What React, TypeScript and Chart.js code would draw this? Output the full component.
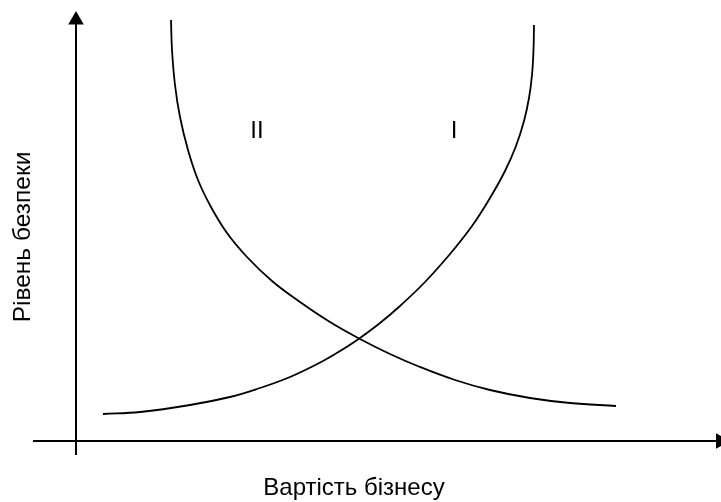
import React, { useEffect, useRef } from "react";
import { Chart, registerables } from "chart.js";

Chart.register(...registerables);

// Curve II (decreasing)
const curveIIX = [1.9, 1.92, 1.98, 2.08, 2.24, 2.44, 2.7, 3.02, 3.42, 3.92, 4.48, 5.08, 5.68, 6.28, 6.88, 7.58, 8.28, 9.08, 9.88, 10.8];
const curveIIY = [10.525, 9.775, 8.9, 8.1, 7.275, 6.525, 5.85, 5.2, 4.6, 4.0, 3.475, 2.975, 2.55, 2.175, 1.85, 1.525, 1.275, 1.075, 0.95, 0.875];
// Curve I (increasing)
const curveIX = [0.54, 1.28, 2.28, 3.08, 3.62, 4.28, 4.94, 5.38, 5.68, 6.08, 6.48, 6.98, 7.48, 7.92, 8.28, 8.58, 8.8, 8.96, 9.06, 9.12, 9.15, 9.16];
const curveIY = [0.675, 0.725, 0.9, 1.1, 1.3, 1.6, 2.0, 2.325, 2.575, 2.95, 3.375, 3.975, 4.675, 5.375, 6.075, 6.75, 7.375, 8.0, 8.575, 9.15, 9.775, 10.4];

// Axes (with arrows)
const xAxisLineX = [-0.86, 12.9];
const yAxisLineY = [-0.35, 10.5];
const yArrowY = 10.525;
const xArrowX = 12.89;

const curveLabels = ["II", "I"];
const curveLabelX = [3.62, 7.56];
const curveLabelY = [7.575, 7.575];

const xTitle = "Вартість бізнесу";
const yTitle = "Рівень безпеки";
const xTitlePos = [5.56, -1.35];
const yTitlePos = [-0.92, 5.1];

const toPts = (xs: number[], ys: number[]) => xs.map((x, i) => ({ x, y: ys[i] }));

const textPlugin = {
  id: "textPlugin",
  afterDatasetsDraw(chart: any) {
    const { ctx, scales } = chart;
    const sx = scales.x;
    const sy = scales.y;
    ctx.save();
    ctx.fillStyle = "#000";
    ctx.font = "24px 'Liberation Sans', Arial, sans-serif";
    ctx.textAlign = "center";
    ctx.textBaseline = "alphabetic";
    curveLabels.forEach((t, i) => {
      ctx.fillText(t, sx.getPixelForValue(curveLabelX[i]), sy.getPixelForValue(curveLabelY[i]));
    });
    ctx.font = "24px 'Liberation Sans', Arial, sans-serif";
    ctx.fillText(xTitle, sx.getPixelForValue(xTitlePos[0]), sy.getPixelForValue(xTitlePos[1]));
    ctx.translate(sx.getPixelForValue(yTitlePos[0]), sy.getPixelForValue(yTitlePos[1]));
    ctx.rotate(-Math.PI / 2);
    ctx.font = "24.5px 'Liberation Sans', Arial, sans-serif";
    ctx.fillText(yTitle, 0, 0);
    ctx.restore();
  },
};

export default function App() {
  const ref = useRef<HTMLCanvasElement | null>(null);
  useEffect(() => {
    if (!ref.current) return;
    const lineDs = (data: any[], width: number, tension: number) => ({
      data,
      showLine: true,
      borderColor: "#000",
      borderWidth: width,
      pointRadius: 0,
      pointHoverRadius: 0,
      tension,
      clip: false as any,
    });
    const chart = new Chart(ref.current, {
      type: "scatter",
      data: {
        datasets: [
          lineDs(toPts(xAxisLineX, [0, 0]), 2, 0),
          lineDs(toPts([0, 0], yAxisLineY), 2, 0),
          lineDs(toPts(curveIIX, curveIIY), 1.8, 0.4),
          lineDs(toPts(curveIX, curveIY), 1.8, 0.4),
          {
            data: [{ x: 0, y: yArrowY }],
            pointStyle: "triangle",
            pointRadius: 9,
            rotation: 0,
            backgroundColor: "#000",
            borderColor: "#000",
            borderWidth: 0,
            clip: false as any,
          },
          {
            data: [{ x: xArrowX, y: 0 }],
            pointStyle: "triangle",
            pointRadius: 9,
            rotation: 90,
            backgroundColor: "#000",
            borderColor: "#000",
            borderWidth: 0,
            clip: false as any,
          },
        ],
      },
      options: {
        animation: false,
        responsive: false,
        devicePixelRatio: 1,
        layout: { padding: 0, autoPadding: false },
        events: [],
        plugins: { legend: { display: false }, tooltip: { enabled: false } },
        scales: {
          x: { type: "linear", min: -1.52, max: 12.9, display: false },
          y: { type: "linear", min: -1.525, max: 11.025, display: false },
        },
      },
      plugins: [textPlugin],
    });
    return () => chart.destroy();
  }, []);
  return (
    <div style={{ position: "fixed", left: 0, top: 0, width: 721, height: 502, background: "#fff" }}>
      <canvas ref={ref} width={721} height={502} style={{ display: "block" }} />
    </div>
  );
}
